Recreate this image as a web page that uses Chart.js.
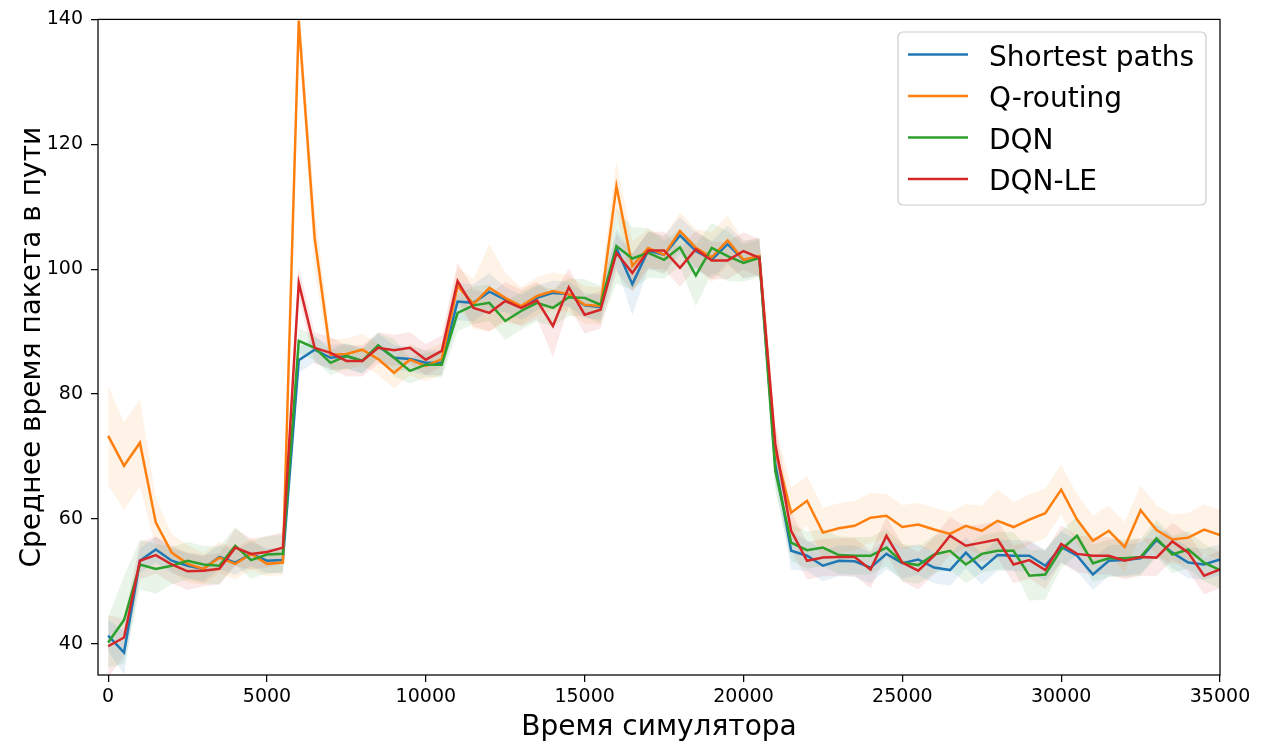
<!DOCTYPE html>
<html lang="ru">
<head>
<meta charset="UTF-8">
<title>Среднее время пакета в пути</title>
<script src="https://cdn.jsdelivr.net/npm/chart.js"></script>
<style>
  html, body { margin: 0; padding: 0; background: #fff; }
  #wrap { width: 1267px; height: 744px; }
</style>
</head>
<body>
<div id="wrap"><canvas id="chart" width="1267" height="744"></canvas></div>
<script>
// время симулятора (ось X)
const steps = [
  0, 500, 1000, 1500, 2000, 2500, 3000, 3500, 4000, 4500,
  5000, 5500, 6000, 6500, 7000, 7500, 8000, 8500, 9000, 9500,
  10000, 10500, 11000, 11500, 12000, 12500, 13000, 13500, 14000, 14500,
  15000, 15500, 16000, 16500, 17000, 17500, 18000, 18500, 19000, 19500,
  20000, 20500, 21000, 21500, 22000, 22500, 23000, 23500, 24000, 24500,
  25000, 25500, 26000, 26500, 27000, 27500, 28000, 28500, 29000, 29500,
  30000, 30500, 31000, 31500, 32000, 32500, 33000, 33500, 34000, 34500,
  35000
];

const seriesNames = ['Shortest paths', 'Q-routing', 'DQN', 'DQN-LE'];
const seriesColors = ['#1f77b4', '#ff7f0e', '#2ca02c', '#d62728'];

// средние значения
const shortestPaths = [
  41.3, 38.6, 53.3, 55.1, 53.3, 52.5, 52.0, 53.9, 53.0, 54.4, 53.3, 53.4,
  85.4, 87.1, 85.8, 86.1, 85.3, 87.7, 85.8, 85.6, 85.0, 85.0,
  94.8, 94.6, 96.4, 95.1, 93.9, 95.4, 96.2, 96.0, 94.2, 93.9,
  103.4, 97.6, 103.0, 102.3, 105.4, 102.9, 101.5, 104.0, 101.5, 102.0,
  68.8, 54.9, 54.1, 52.5, 53.3, 53.2, 52.2, 54.4, 52.9, 53.5, 52.2, 51.8, 54.6, 52.0, 54.2, 54.1,
  54.1, 52.5, 55.5, 54.1, 51.1, 53.3, 53.4, 53.7, 56.6, 54.6, 53.0, 52.7, 53.5
];
const qRouting = [
  73.3, 68.5, 72.2, 59.4, 54.6, 52.8, 52.0, 53.8, 52.8, 54.4, 52.8, 53.0,
  139.8, 105.0, 86.3, 86.4, 87.1, 85.6, 83.4, 85.5, 84.5, 85.6,
  97.3, 94.4, 97.0, 95.4, 94.1, 95.7, 96.5, 96.0, 94.3, 94.1,
  113.3, 100.5, 103.4, 102.3, 106.1, 103.4, 101.9, 104.6, 101.5, 102.1,
  71.0, 61.0, 62.9, 57.8, 58.5, 58.9, 60.2, 60.5, 58.7, 59.1, 58.3, 57.6, 58.9, 58.1, 59.7, 58.7,
  59.9, 60.9, 64.7, 59.9, 56.5, 58.1, 55.5, 61.4, 58.2, 56.7, 57.0, 58.3, 57.4
];
const dqn = [
  40.2, 43.8, 52.7, 52.0, 52.5, 53.3, 52.7, 52.5, 55.7, 53.4, 54.3, 54.4,
  88.5, 87.4, 85.0, 86.1, 85.3, 87.8, 85.8, 83.7, 84.7, 84.7,
  93.0, 94.2, 94.6, 91.7, 93.3, 94.6, 93.8, 95.5, 95.4, 94.3,
  103.7, 101.7, 102.6, 101.5, 103.5, 99.0, 103.4, 102.1, 101.0, 101.8,
  67.7, 56.2, 55.0, 55.4, 54.2, 54.1, 54.1, 55.4, 53.0, 52.6, 54.3, 54.9, 52.7, 54.4, 54.9, 54.9,
  50.9, 51.1, 55.1, 57.3, 52.9, 53.7, 53.7, 53.9, 56.9, 54.3, 55.1, 53.0, 51.8
];
const dqnLe = [
  39.6, 41.0, 53.3, 54.2, 52.7, 51.6, 51.7, 52.0, 55.4, 54.4, 54.7, 55.4,
  97.8, 87.4, 86.6, 85.3, 85.3, 87.4, 87.0, 87.4, 85.5, 86.9,
  98.1, 93.8, 93.0, 94.9, 93.8, 95.0, 90.9, 97.1, 92.7, 93.5,
  102.6, 99.4, 103.0, 103.0, 100.2, 103.2, 101.4, 101.4, 102.9, 101.8,
  72.0, 58.1, 53.3, 53.8, 53.9, 53.9, 51.9, 57.3, 53.0, 51.7, 54.1, 57.3, 55.7, 56.2, 56.7, 52.7,
  53.4, 51.8, 56.0, 54.4, 54.1, 54.1, 53.3, 53.9, 53.8, 56.4, 54.6, 50.9, 51.9
];

// разброс (полуширина закрашенной области)
const shortestPathsSpread = [
  2.5, 3.5, 2, 2, 2, 2, 2, 2, 2, 2, 2, 2,
  2, 2, 2, 2, 2, 2, 2, 2, 2, 2,
  3, 3, 3, 2, 2, 2, 2, 2, 2, 2,
  3, 5, 3, 3, 3, 3, 3, 3, 3, 3,
  3, 3, 2.5, 2.5, 2.5, 2.5, 2.5, 2.5, 2.5, 2.5, 2.5, 2.5, 2.5, 2.5, 2.5, 2.5,
  2.5, 2.5, 2.5, 2.5, 2.5, 2.5, 2.5, 2.5, 2.5, 2.5, 2.5, 2.5, 2.5
];
const qRoutingSpread = [
  8, 7, 7, 4, 3, 3, 2.5, 2.5, 2.5, 2.5, 2, 2,
  3, 5, 2.5, 2.5, 2.5, 2.5, 2.5, 2.5, 2.5, 2.5,
  3, 4, 7, 4, 3, 3, 3, 3, 3, 3,
  4, 4, 3, 3, 3, 3, 4, 4, 3, 3,
  4, 4, 4, 4, 4, 4, 4, 3.5, 3.5, 3.5, 3.5, 3.5, 3.5, 4, 5, 4,
  4, 4, 4, 4, 4, 4, 4, 4, 4, 4, 4, 4, 4
];
const dqnSpread = [
  4, 7, 4, 4, 3, 3, 3, 3, 3, 3, 3, 3,
  2, 2, 2, 2, 2, 2, 3, 2, 2, 2,
  3, 3, 3, 3, 3, 3, 3, 3, 3, 3,
  6, 5, 4, 3, 3, 5, 4, 4, 3, 3,
  3, 3, 3, 3, 3, 3, 3, 3, 3, 3, 3, 3, 3, 3, 3, 3,
  4, 4, 3, 3, 3, 3, 3, 3, 3, 3, 3, 3, 3
];
const dqnLeSpread = [
  5, 3, 3, 3, 3, 3, 2.5, 2.5, 3, 2.5, 2.5, 2.5,
  2.5, 2.5, 2.5, 2.5, 2.5, 2.5, 2.5, 2.5, 2.5, 2.5,
  3, 3, 3, 3, 3, 3, 5, 3, 3, 3,
  3, 3, 3, 3, 3, 3, 3, 3, 3, 3,
  3, 3, 3, 3, 3, 3, 3, 3, 3, 3, 3, 3, 3, 3, 3, 3,
  3, 3, 3, 3, 3, 3, 3, 3, 3, 3, 3, 3, 3
];

const xTicks = [0, 5000, 10000, 15000, 20000, 25000, 30000, 35000];
const yTicks = [40, 60, 80, 100, 120, 140];

const allMeans = [shortestPaths, qRouting, dqn, dqnLe];
const allSpreads = [shortestPathsSpread, qRoutingSpread, dqnSpread, dqnLeSpread];

function hexA(hex, a) {
  const n = parseInt(hex.slice(1), 16);
  return `rgba(${(n >> 16) & 255}, ${(n >> 8) & 255}, ${n & 255}, ${a})`;
}
const pts = (arr) => arr.map((v, i) => ({ x: steps[i], y: v }));

// сначала полосы разброса, потом линии
const datasets = [];
allMeans.forEach((m, k) => {
  const s = allSpreads[k];
  datasets.push({
    data: pts(m.map((v, i) => v - s[i])),
    borderWidth: 0, pointRadius: 0, fill: false, order: 10
  });
  datasets.push({
    data: pts(m.map((v, i) => v + s[i])),
    borderWidth: 0, pointRadius: 0, fill: '-1',
    backgroundColor: hexA(seriesColors[k], 0.1), order: 10
  });
});
allMeans.forEach((m, k) => {
  datasets.push({
    label: seriesNames[k],
    data: pts(m),
    borderColor: seriesColors[k],
    borderWidth: 2.5,
    pointRadius: 0,
    fill: false,
    tension: 0,
    order: 4 - k
  });
});

const FONT = "'DejaVu Sans', sans-serif";

const decor = {
  id: 'decor',
  afterDatasetsDraw(chart) {
    const { ctx, chartArea: a } = chart;
    ctx.save();
    ctx.strokeStyle = '#000';
    ctx.lineWidth = 1.25;
    ctx.strokeRect(a.left, a.top, a.right - a.left, a.bottom - a.top);

    // легенда
    const bx = 898, by = 32, bw = 308, bh = 173, r = 5;
    ctx.beginPath();
    ctx.moveTo(bx + r, by);
    ctx.arcTo(bx + bw, by, bx + bw, by + bh, r);
    ctx.arcTo(bx + bw, by + bh, bx, by + bh, r);
    ctx.arcTo(bx, by + bh, bx, by, r);
    ctx.arcTo(bx, by, bx + bw, by, r);
    ctx.closePath();
    ctx.fillStyle = 'rgba(255,255,255,0.8)';
    ctx.fill();
    ctx.strokeStyle = '#cccccc';
    ctx.lineWidth = 1.2;
    ctx.stroke();

    const rowsY = [54.5, 96, 137.5, 179];
    ctx.font = `28px ${FONT}`;
    ctx.textAlign = 'left';
    ctx.textBaseline = 'alphabetic';
    seriesNames.forEach((name, k) => {
      ctx.strokeStyle = seriesColors[k];
      ctx.lineWidth = 2.5;
      ctx.beginPath();
      ctx.moveTo(908, rowsY[k]);
      ctx.lineTo(968, rowsY[k]);
      ctx.stroke();
      ctx.fillStyle = '#000';
      ctx.fillText(name, 989, rowsY[k] + 11);
    });

    // подписи осей
    ctx.font = `28px ${FONT}`;
    ctx.textAlign = 'center';
    ctx.fillText('Время симулятора', (a.left + a.right) / 2, 735);
    ctx.translate(40, (a.top + a.bottom) / 2);
    ctx.rotate(-Math.PI / 2);
    ctx.fillText('Среднее время пакета в пути', 0, 0);
    ctx.restore();
  }
};

new Chart(document.getElementById('chart'), {
  type: 'line',
  data: { datasets },
  options: {
    responsive: false,
    animation: false,
    devicePixelRatio: 1,
    layout: { padding: { top: 18, right: 47, left: 0, bottom: 0 } },
    plugins: { legend: { display: false }, tooltip: { enabled: false } },
    scales: {
      x: {
        type: 'linear',
        min: -320,
        max: 35000,
        afterBuildTicks: (s) => { s.ticks = xTicks.map(v => ({ value: v })); },
        afterFit: (s) => { s.height = 69; },
        border: { display: false },
        grid: { drawOnChartArea: false, drawTicks: true, tickLength: 7, color: '#000', lineWidth: 1.25 },
        ticks: { color: '#000', font: { family: FONT, size: 19 }, padding: 4, maxRotation: 0,
                 callback: (v) => String(v) }
      },
      y: {
        type: 'linear',
        min: 35,
        max: 140,
        afterBuildTicks: (s) => { s.ticks = yTicks.map(v => ({ value: v })); },
        afterFit: (s) => { s.width = 98; },
        border: { display: false },
        grid: { drawOnChartArea: false, drawTicks: true, tickLength: 7, color: '#000', lineWidth: 1.25 },
        ticks: { color: '#000', font: { family: FONT, size: 19 }, padding: 8,
                 callback: (v) => String(v) }
      }
    }
  },
  plugins: [decor]
});
</script>
</body>
</html>
